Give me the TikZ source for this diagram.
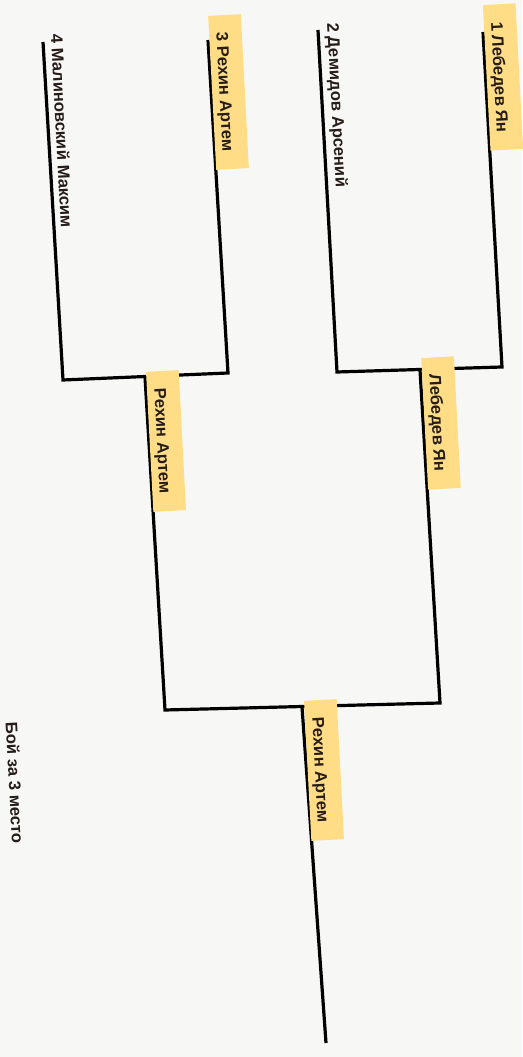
\documentclass[tikz,border=0pt]{standalone}
\usepackage{fontspec}
\setmainfont{Liberation Sans}
\usetikzlibrary{positioning}
\definecolor{marker}{RGB}{255,221,135}
\definecolor{ink}{RGB}{38,28,24}
\definecolor{paper}{RGB}{247,247,246}

\begin{document}
\begin{tikzpicture}[x=0.75pt,y=0.75pt,
  bracket/.style={line width=2.4pt,line join=miter},
  player/.style={rotate=-87,font=\bfseries\fontsize{12.5}{15}\selectfont,
    text=ink,inner sep=0pt},
  winner/.style={player,fill=marker,inner xsep=13pt,
    text height=19pt,text depth=5.5pt}]
  \fill[paper] (0,0) rectangle (522,1057);
  \useasboundingbox (0,0) rectangle (522,1057);

  \coordinate (a1) at (483,1025);
  \coordinate (c1) at (502,690);
  \coordinate (a2) at (318,1027);
  \coordinate (c2) at (337,685);
  \coordinate (a3) at (208,1017);
  \coordinate (c3) at (228,684);
  \coordinate (a4) at (43,1015);
  \coordinate (c4) at (63,677);
  \coordinate (s1) at (420,687);
  \coordinate (d1) at (440,354);
  \coordinate (s2) at (145,680);
  \coordinate (d2) at (165,347);
  \coordinate (f) at (302,350);
  \coordinate (e) at (326,14);

  \draw[bracket] (a1) -- (c1) -- (c2) -- (a2);
  \draw[bracket] (a3) -- (c3) -- (c4) -- (a4);
  \draw[bracket] (s1) -- (d1) -- (d2) -- (s2);
  \draw[bracket] (f) -- (e);

  \node[winner] (p1) at (503,980) {1 Лебедев Ян};
  \node[player] (p2) at (336,952) {2 Демидов Арсений};
  \node[winner] (p3) at (228.5,965) {3 Рехин Артем};
  \node[player] (p4) at (62,926) {4 Малиновский Максим};
  \node[winner] (semi1) at (441,634) {Лебедев Ян};
  \node[winner] (semi2) at (166,616) {Рехин Артем};
  \node[winner] (final) at (324,287) {Рехин Артем};
  \node[player] (bronze) at (15,274) {Бой за 3 место};
\end{tikzpicture}
\end{document}
